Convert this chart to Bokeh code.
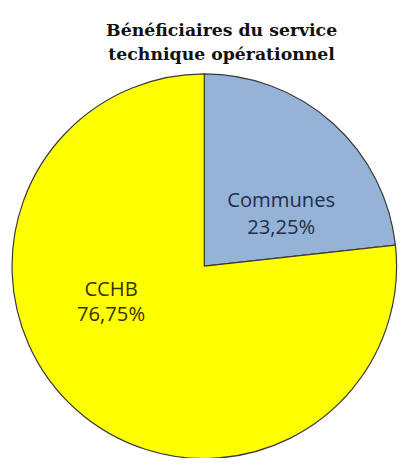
import math
from bokeh.plotting import figure
from bokeh.models import ColumnDataSource, Range1d
from bokeh.core.properties import value
from bokeh.embed import file_html
from bokeh.resources import INLINE

# ---- data ----
categories = ["Communes", "CCHB"]
shares = [23.25, 76.75]
share_labels = ["23,25%", "76,75%"]
title_lines = ["Bénéficiaires du service", "technique opérationnel"]

# ---- style / layout (reference pixel coordinates, y measured from top) ----
colors = ["#95B3D7", "#FFFF00"]
label_colors = ["#1F2D4A", "#333300"]
W, H = 398, 458          # figure size in screen pixels
REF_W, REF_H = 414, 474  # reference canvas, shown scaled into the figure
cx, cy, R = 212, 275, 200
name_pos = [(292, 205), (115, 298)]
pct_pos = [(292, 233), (115, 323)]
title_pos = [(230, 31), (230, 55)]
k = W / REF_W


def fy(y):
    return REF_H - y


total = sum(shares)
starts, ends = [], []
acc = 0.0
for s in shares:
    # clockwise from 12 o'clock
    a0 = math.pi / 2 - 2 * math.pi * (acc + s) / total
    a1 = math.pi / 2 - 2 * math.pi * acc / total
    starts.append(a0)
    ends.append(a1)
    acc += s

src = ColumnDataSource(dict(cat=categories, start=starts, end=ends, color=colors))

p = figure(width=W, height=H, output_backend="svg", toolbar_location=None,
           x_range=Range1d(0, REF_W), y_range=Range1d(0, REF_H),
           min_border=0, min_border_left=0, min_border_right=0,
           min_border_top=0, min_border_bottom=0)
p.axis.visible = False
p.grid.visible = False
p.outline_line_color = None
p.background_fill_color = "white"
p.border_fill_color = "white"

p.wedge(x=cx, y=fy(cy), radius=R, start_angle="start", end_angle="end",
        fill_color="color", line_color="#3A3A3A", line_width=1.2, source=src)

lab = ColumnDataSource(dict(
    nx=[q[0] for q in name_pos], ny=[fy(q[1]) for q in name_pos],
    px=[q[0] for q in pct_pos], py=[fy(q[1]) for q in pct_pos],
    name=categories, pct=share_labels, col=label_colors))
for xk, yk, tk in (("nx", "ny", "name"), ("px", "py", "pct")):
    p.text(x=xk, y=yk, text=tk, source=lab, text_color="col",
           text_font=value("Open Sans"), text_font_size=f"{21 * k:.1f}px",
           text_align="center", text_baseline="alphabetic")

tsrc = ColumnDataSource(dict(x=[q[0] for q in title_pos],
                             y=[fy(q[1]) for q in title_pos], t=title_lines))
p.text(x="x", y="y", text="t", source=tsrc, text_color="#111111",
       text_font=value("DejaVu Serif"), text_font_style="bold",
       text_font_size=f"{18 * k:.1f}px", text_align="center",
       text_baseline="alphabetic")

open("out.html", "w").write(file_html(p, INLINE))
